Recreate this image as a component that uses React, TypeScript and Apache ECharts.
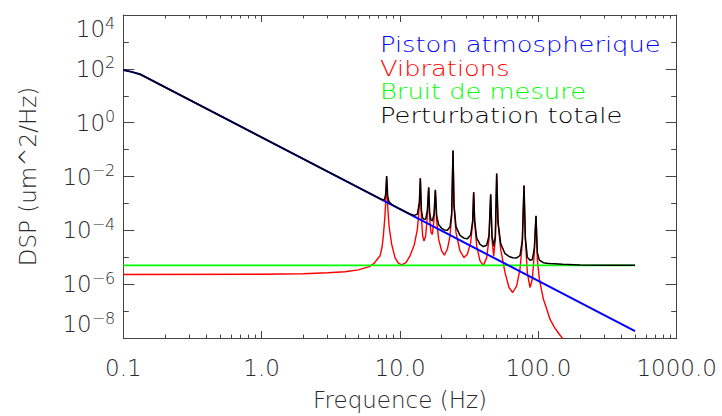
import React, { useEffect, useRef } from 'react';
import * as echarts from 'echarts';

// ---------- data ----------
const xMajorTicks = [0.1, 1, 10, 100, 1000];
const xMinorTicks = [
  0.2, 0.3, 0.4, 0.5, 0.6, 0.7, 0.8, 0.9,
  2, 3, 4, 5, 6, 7, 8, 9,
  20, 30, 40, 50, 60, 70, 80, 90,
  200, 300, 400, 500, 600, 700, 800, 900,
];
const yMajorTicks = [1e-8, 1e-6, 1e-4, 1e-2, 1, 1e2, 1e4];
const yMinorTicks = [1e-7, 1e-5, 1e-3, 1e-1, 10, 1e3];

const legendNames = ['Piston atmospherique', 'Vibrations', 'Bruit de mesure', 'Perturbation totale'];
const legendColors = ['#0000ff', '#ff0000', '#00ff00', '#000000'];

// Piston atmospherique [Hz, um^2/Hz]
const pistonPts = [
  [0.1, 91], [0.115, 77], [0.132, 63], [500, 1.8e-8],
];

// Bruit de mesure
const bruitPts = [
  [0.1, 5e-6], [500, 5e-6],
];

// Vibrations
const vibPts = [
  [0.1, 2.3e-6], [1, 2.33e-6], [2, 2.45e-6], [3, 2.65e-6], [4, 2.9e-6], [5, 3.4e-6],
  [6, 4.5e-6], [6.5, 5.9e-6], [7, 9.8e-6], [7.17, 1.12e-5], [7.41, 2.3e-5], [7.58, 6.2e-5],
  [7.75, 2.55e-4], [7.88, 1.06e-3], [8.01, 9.4e-3], [8.15, 8.0e-4], [8.33, 1.45e-4],
  [8.71, 3.0e-5], [9.2, 9.7e-6], [9.73, 6.0e-6], [10.28, 5.2e-6], [11.05, 6.3e-6],
  [11.81, 1.12e-5], [12.7, 3.0e-5], [13.35, 1.09e-4], [13.8, 8.0e-4], [14.03, 8.4e-3],
  [14.27, 3.4e-4], [14.58, 6.2e-5], [14.91, 4.0e-5], [15.33, 6.2e-5], [15.76, 3.4e-4],
  [16.12, 3.8e-3], [16.39, 2.55e-4], [16.75, 8.2e-5], [17.13, 7.1e-5], [17.62, 2.55e-4],
  [18.01, 3.1e-3], [18.41, 2.2e-4], [19.04, 4.6e-5], [20.01, 1.71e-5], [20.92, 1.19e-5],
  [21.99, 1.98e-5], [22.99, 6.2e-5], [23.63, 3.4e-4], [24.16, 0.092], [24.57, 8.0e-4],
  [25.4, 8.2e-5], [27.14, 1.71e-5], [29.02, 9.7e-6], [30.68, 1.29e-5], [32.42, 3.5e-5],
  [33.52, 1.92e-4], [34.08, 2.6e-3], [34.65, 1.92e-4], [35.84, 2.6e-5], [37.88, 7.3e-6],
  [40.05, 5.0e-6], [42.32, 9.7e-6], [43.99, 4.6e-5], [45.23, 2.15e-3], [46.24, 4.6e-5],
  [47.54, 1.12e-5], [48.88, 4.6e-5], [49.98, 0.0129], [51.1, 1.92e-4], [53.42, 1.98e-5],
  [57.42, 2.7e-6], [61.37, 7.5e-7], [65.23, 4.9e-7], [69.72, 8.7e-7], [73.7, 3.6e-6],
  [76.62, 3.5e-5], [78.77, 4.6e-3], [80.54, 4.6e-5], [83.26, 2.7e-6], [87.04, 7.5e-7],
  [90.49, 1.53e-6], [93.55, 1.49e-5], [96.16, 3.4e-4], [98.33, 8.4e-6], [101.7, 1.53e-6],
  [108.7, 2.8e-7], [114.9, 1.19e-7], [121.4, 5.0e-8], [130, 2.6e-8], [140, 1.5e-8],
  [150, 9.5e-9], [160, 6e-9],
];

// Perturbation totale
const totalPts = [
  [0.1, 91], [0.115, 77], [0.132, 63], [7.17, 1.51e-3], [7.41, 1.40e-3], [7.58, 1.36e-3],
  [7.75, 1.47e-3], [7.88, 2.23e-3], [8.01, 1.05e-2], [8.15, 1.87e-3], [8.33, 1.15e-3],
  [8.71, 9.3e-4], [9.2, 7.8e-4], [9.73, 6.7e-4], [10.28, 5.8e-4], [11.05, 4.8e-4],
  [11.81, 4.1e-4], [12.7, 3.6e-4], [13.35, 4.0e-4], [13.8, 1.06e-3], [14.03, 8.65e-3],
  [14.27, 5.8e-4], [14.58, 2.9e-4], [14.91, 2.56e-4], [15.33, 2.64e-4], [15.76, 5.3e-4],
  [16.12, 3.98e-3], [16.39, 4.25e-4], [16.75, 2.42e-4], [17.13, 2.22e-4], [17.62, 3.96e-4],
  [18.01, 3.23e-3], [18.41, 3.46e-4], [19.04, 1.61e-4], [20.01, 1.19e-4], [20.92, 1.03e-4],
  [21.99, 1.0e-4], [22.99, 1.34e-4], [23.63, 4.07e-4], [24.16, 0.092], [24.57, 8.6e-4],
  [25.4, 1.38e-4], [27.14, 6.5e-5], [29.02, 5.1e-5], [30.68, 4.9e-5], [32.42, 6.7e-5],
  [33.52, 2.21e-4], [34.08, 2.62e-3], [34.65, 2.19e-4], [35.84, 5.2e-5], [37.88, 3.0e-5],
  [40.05, 2.5e-5], [42.32, 2.8e-5], [43.99, 6.3e-5], [45.23, 2.17e-3], [46.24, 6.1e-5],
  [47.54, 2.6e-5], [48.88, 6.0e-5], [49.98, 0.0129], [51.1, 2.05e-4], [53.42, 3.2e-5],
  [57.42, 1.35e-5], [61.37, 1.07e-5], [65.23, 9.6e-6], [69.72, 9.4e-6], [73.7, 1.16e-5],
  [76.62, 4.3e-5], [78.77, 4.6e-3], [80.54, 5.3e-5], [83.26, 9.9e-6], [87.04, 7.7e-6],
  [90.49, 8.3e-6], [93.55, 2.15e-5], [96.16, 3.47e-4], [98.33, 1.48e-5], [101.7, 7.8e-6],
  [108.7, 6.3e-6], [114.9, 6.0e-6], [121.4, 5.8e-6], [150, 5.45e-6], [200, 5.2e-6],
  [300, 5.07e-6], [500, 5.03e-6],
];

// ---------- styling ----------
const FONT = '"DejaVu Sans ExtraLight", "DejaVu Sans", "Liberation Sans", sans-serif';
const WEIGHT = 200;
const AXIS_COLOR = '#444';
const TEXT_COLOR = '#2a2a2a';

function xAxes() {
  const base = {
    type: 'log',
    logBase: 10,
    min: 0.1,
    max: 1000,
    splitLine: { show: false },
    minorTick: { show: false },
    minorSplitLine: { show: false },
  };
  const mk = (position: string, major: boolean, withLabel: boolean) => ({
    ...base,
    position,
    axisLine: { show: major, onZero: false, lineStyle: { color: AXIS_COLOR, width: 1 } },
    axisTick: {
      show: true,
      inside: true,
      length: major ? 7 : 3.5,
      customValues: major ? xMajorTicks : xMinorTicks,
      lineStyle: { color: AXIS_COLOR, width: 1 },
    },
    axisLabel: withLabel
      ? {
          show: true,
          customValues: xMajorTicks,
          formatter: (v: number) => Number(v).toFixed(1),
          margin: 18,
          color: TEXT_COLOR,
          fontSize: 23,
          fontWeight: WEIGHT,
          fontFamily: FONT,
        }
      : { show: false },
    ...(withLabel
      ? {
          name: 'Frequence (Hz)',
          nameLocation: 'middle',
          nameGap: 50,
          nameTextStyle: { color: TEXT_COLOR, fontSize: 23, fontWeight: WEIGHT, fontFamily: FONT },
        }
      : {}),
  });
  return [
    mk('bottom', true, true),
    mk('bottom', false, false),
    mk('top', true, false),
    mk('top', false, false),
  ];
}

function yAxes() {
  const base = {
    type: 'log',
    logBase: 10,
    min: 1e-8,
    max: 1e4,
    splitLine: { show: false },
    minorTick: { show: false },
    minorSplitLine: { show: false },
  };
  const mk = (position: string, major: boolean, withLabel: boolean) => ({
    ...base,
    position,
    axisLine: { show: major, onZero: false, lineStyle: { color: AXIS_COLOR, width: 1 } },
    axisTick: {
      show: true,
      inside: true,
      length: major ? 11 : 5.5,
      customValues: major ? yMajorTicks : yMinorTicks,
      lineStyle: { color: AXIS_COLOR, width: 1 },
    },
    axisLabel: withLabel
      ? {
          show: true,
          customValues: yMajorTicks,
          margin: 8,
          verticalAlignMinLabel: 'bottom',
          verticalAlignMaxLabel: 'top',
          formatter: (v: number) => {
            const e = Math.round(Math.log10(v));
            return `{b|10}{e|${e < 0 ? '\u2212' : ''}${Math.abs(e)}}`;
          },
          rich: {
            b: { fontSize: 23, fontWeight: WEIGHT, fontFamily: FONT, color: TEXT_COLOR, lineHeight: 28 },
            e: { fontSize: 16, fontWeight: WEIGHT, fontFamily: FONT, color: TEXT_COLOR, verticalAlign: 'top', lineHeight: 16 },
          },
        }
      : { show: false },
    ...(withLabel
      ? {
          name: 'DSP (um^2/Hz)',
          nameLocation: 'middle',
          nameGap: 84,
          nameTextStyle: { color: TEXT_COLOR, fontSize: 23, fontWeight: WEIGHT, fontFamily: FONT },
        }
      : {}),
  });
  return [
    mk('left', true, true),
    mk('left', false, false),
    mk('right', true, false),
    mk('right', false, false),
  ];
}

function lineSeries(name: string, data: number[][], color: string, width: number) {
  return {
    name,
    type: 'line',
    xAxisIndex: 0,
    yAxisIndex: 0,
    data,
    symbol: 'none',
    showSymbol: false,
    smooth: false,
    clip: true,
    silent: true,
    lineStyle: { color, width },
    itemStyle: { color },
  };
}

export default function App() {
  const ref = useRef<HTMLDivElement>(null);
  useEffect(() => {
    if (!ref.current) return;
    const chart = echarts.init(ref.current, null, { renderer: 'svg' });
    chart.setOption({
      animation: false,
      backgroundColor: '#ffffff',
      textStyle: { fontFamily: FONT, fontWeight: WEIGHT },
      grid: { left: 123.3, top: 15, right: 45.3, bottom: 77, containLabel: false },
      xAxis: xAxes(),
      yAxis: yAxes(),
      series: [
        lineSeries(legendNames[1], vibPts, legendColors[1], 1.4),
        lineSeries(legendNames[2], bruitPts, legendColors[2], 1.8),
        lineSeries(legendNames[0], pistonPts, legendColors[0], 2),
        lineSeries(legendNames[3], totalPts, legendColors[3], 1.5),
      ],
      graphic: legendNames.map((n, i) => ({
        type: 'text',
        x: 380,
        y: 44.5 + i * 23.7,
        scaleX: 1.17,
        silent: true,
        style: {
          text: n,
          fill: legendColors[i],
          fontSize: 22,
          fontWeight: WEIGHT,
          fontFamily: FONT,
          align: 'left',
          verticalAlign: 'middle',
        },
      })),
    });
    return () => chart.dispose();
  }, []);
  return <div ref={ref} style={{ width: 722, height: 416, position: 'absolute', left: 0, top: 0 }} />;
}
